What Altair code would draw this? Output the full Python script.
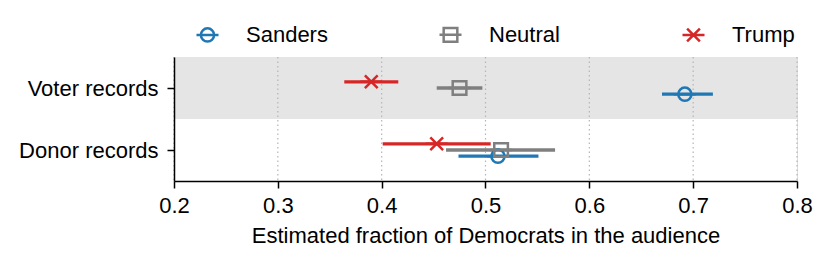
import altair as alt
import pandas as pd

# ---- data ----
sources = ["Voter records", "Donor records"]      # top to bottom
groups = ["Sanders", "Neutral", "Trump"]
colors = ["#1f77b4", "#7f7f7f", "#d62728"]

voter_est = [0.692, 0.475, 0.390]
voter_lo = [0.670, 0.453, 0.364]
voter_hi = [0.719, 0.497, 0.416]

donor_est = [0.512, 0.515, 0.453]
donor_lo = [0.474, 0.462, 0.401]
donor_hi = [0.551, 0.567, 0.505]

x_ticks = [0.2, 0.3, 0.4, 0.5, 0.6, 0.7, 0.8]
shaded_rows = ["Voter records"]

rows = []
for src, est, lo, hi in [("Voter records", voter_est, voter_lo, voter_hi),
                         ("Donor records", donor_est, donor_lo, donor_hi)]:
    for g, e, l, h in zip(groups, est, lo, hi):
        rows.append({"source": src, "group": g, "est": e, "lo": l, "hi": h})
df = pd.DataFrame(rows)

FONT = "Liberation Sans"
W, H = 623, 124

# row index: bottom row = 0
row_expr = "indexof(%s, datum.source)" % str(list(reversed(sources))).replace("'", '"')
# dodge within a row (fraction of a row)
dodge_expr = "datum.group == 'Trump' ? 0.1 : (datum.group == 'Sanders' ? -0.1 : 0)"
label_expr = "datum.value == 1 ? '%s' : (datum.value == 0 ? '%s' : '')" % (sources[0], sources[1])

shape_paths = [
    "M-1,0L1,0M-0.6,0A0.6,0.6 0 1,0 0.6,0A0.6,0.6 0 1,0 -0.6,0",
    "M-1,0L1,0M-0.62,-0.62L0.62,-0.62L0.62,0.62L-0.62,0.62Z",
    "M-1,0L1,0M-0.58,-0.58L0.58,0.58M-0.58,0.58L0.58,-0.58",
]

y_scale = alt.Scale(domain=[-0.5, 1.5], nice=False, zero=False)
y_axis = alt.Axis(title=None, values=[0, 1], labelExpr=label_expr,
                  labelFontSize=22, labelFont=FONT, labelColor="black",
                  tickColor="black", tickSize=7, tickWidth=1.5,
                  domainColor="black", domainWidth=1.5, labelPadding=9,
                  grid=False, zindex=1, labelFlush=False)
x_scale = alt.Scale(domain=[0.2, 0.8], nice=False, zero=False)
x_axis = alt.Axis(title="Estimated fraction of Democrats in the audience",
                  values=x_ticks, format=".1f", labelFontSize=22, labelFont=FONT,
                  titleFontSize=22, titleFont=FONT, titleFontWeight="normal",
                  labelColor="black", titleColor="black", tickColor="black",
                  tickSize=7, tickWidth=1.5, domainColor="black", domainWidth=1.5,
                  labelPadding=7, titlePadding=9, grid=False, zindex=1,
                  labelFlush=False)
color_scale = alt.Scale(domain=groups, range=colors)

legend = alt.Legend(title=None, orient="none", legendX=21, legendY=-35,
                    direction="horizontal", columns=3, gridAlign="all",
                    columnPadding=106, labelOffset=26, symbolSize=484,
                    symbolStrokeWidth=2.5, labelFontSize=22,
                    labelFont=FONT, labelColor="black", padding=0)

band = alt.Chart(pd.DataFrame({"source": shaded_rows})).transform_calculate(
    row=row_expr
).transform_calculate(
    lo_edge="datum.row - 0.5", hi_edge="datum.row + 0.5"
).mark_rect(color="#e5e5e5").encode(
    y=alt.Y("lo_edge:Q", scale=y_scale, axis=y_axis),
    y2="hi_edge:Q",
)

grid = alt.Chart(pd.DataFrame({"x": x_ticks})).mark_rule(
    color="#b5b5b5", strokeDash=[1.5, 3], strokeWidth=1.2
).encode(x=alt.X("x:Q", scale=x_scale, axis=x_axis))

base = alt.Chart(df).transform_calculate(
    row=row_expr, dodge=dodge_expr
).transform_calculate(
    ypos="datum.row + datum.dodge"
)

bars = base.mark_rule(strokeWidth=3.3).encode(
    x=alt.X("lo:Q", scale=x_scale, axis=x_axis),
    x2="hi:Q",
    y=alt.Y("ypos:Q", scale=y_scale, axis=y_axis),
    color=alt.Color("group:N", scale=color_scale, legend=None),
)

points = base.mark_point(filled=False, size=484, strokeWidth=2.5, opacity=1).encode(
    x=alt.X("est:Q", scale=x_scale, axis=x_axis),
    y=alt.Y("ypos:Q", scale=y_scale, axis=y_axis),
    color=alt.Color("group:N", scale=color_scale, legend=legend),
    shape=alt.Shape("group:N", scale=alt.Scale(domain=groups, range=shape_paths),
                    legend=legend),
)

chart = alt.layer(band, grid, bars, points).resolve_legend(
    color="independent", shape="independent"
).properties(
    width=W, height=H,
    autosize=alt.AutoSizeParams(type="none"),
    padding={"left": 166, "top": 49, "right": 25, "bottom": 75},
).configure_view(stroke=None).configure(background="white")

chart.save("out.html", embed_options={"renderer": "svg", "actions": False})
